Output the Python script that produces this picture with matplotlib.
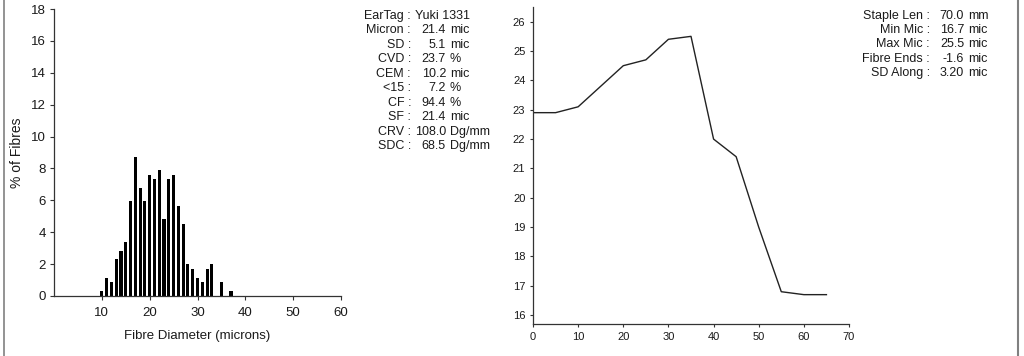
import matplotlib
matplotlib.use("Agg")
import matplotlib.pyplot as plt
from matplotlib.lines import Line2D

plt.rcParams['font.family'] = ['Liberation Sans', 'DejaVu Sans']

# Histogram data
diameters = [10, 11, 12, 13, 14, 15, 16, 17, 18, 19, 20, 21, 22, 23, 24, 25, 26, 27, 28, 29, 30, 31, 32, 33, 35, 37]
pct_fibres = [0.3, 1.15, 0.86, 2.3, 2.85, 3.4, 5.95, 8.7, 6.8, 5.95, 7.6, 7.35, 7.9, 4.8, 7.35, 7.6, 5.65, 4.5, 2.0, 1.72, 1.15, 0.86, 1.72, 2.0, 0.86, 0.3]
hist_xticks = [10, 20, 30, 40, 50, 60]
hist_yticks = [0, 2, 4, 6, 8, 10, 12, 14, 16, 18]

# Profile along staple
position = [0, 5, 10, 15, 20, 25, 30, 35, 40, 45, 50, 55, 60, 65]
micron = [22.9, 22.9, 23.1, 23.8, 24.5, 24.7, 25.4, 25.5, 22.0, 21.4, 19.0, 16.8, 16.7, 16.7]
prof_xticks = [0, 10, 20, 30, 40, 50, 60, 70]
prof_yticks = [16, 17, 18, 19, 20, 21, 22, 23, 24, 25, 26]

# Statistics text
left_labels = ["EarTag", "Micron", "SD", "CVD", "CEM", "<15", "CF", "SF", "CRV", "SDC"]
left_values = ["Yuki 1331", "21.4", "5.1", "23.7", "10.2", "7.2", "94.4", "21.4", "108.0", "68.5"]
left_units = ["", "mic", "mic", "%", "mic", "%", "%", "mic", "Dg/mm", "Dg/mm"]
right_labels = ["Staple Len", "Min Mic", "Max Mic", "Fibre Ends", "SD Along"]
right_values = ["70.0", "16.7", "25.5", "-1.6", "3.20"]
right_units = ["mm", "mic", "mic", "mic", "mic"]

W, H = 1024, 356
fig = plt.figure(figsize=(W / 100, H / 100), dpi=100)

ink = "#1a1a1a"
spine_c = "#333333"

# Histogram axes
ax1 = fig.add_axes([54 / W, 1 - 296 / H, (341 - 54) / W, (296 - 9) / H])
ax1.bar(diameters, pct_fibres, width=0.65, color="black")
ax1.set_xlim(0, 60)
ax1.set_ylim(0, 18)
ax1.set_xticks(hist_xticks)
ax1.set_yticks(hist_yticks)
for s in ["top", "right"]:
    ax1.spines[s].set_visible(False)
for s in ["left", "bottom"]:
    ax1.spines[s].set_color(spine_c)
    ax1.spines[s].set_linewidth(0.9)
ax1.tick_params(axis="both", direction="out", length=3, width=0.8, color=spine_c,
                labelsize=9.5, labelcolor=ink)
ax1.tick_params(axis="x", pad=5)
ax1.tick_params(axis="y", pad=3)
ax1.set_xlabel("Fibre Diameter (microns)", fontsize=9.5, color=ink, labelpad=8)
ax1.set_ylabel("% of Fibres", fontsize=10, color=ink, labelpad=5)

# Profile axes
ax2 = fig.add_axes([533 / W, 1 - 324 / H, (849 - 533) / W, (324 - 7) / H])
ax2.plot(position, micron, color="#222222", lw=1.0)
ax2.set_xlim(0, 70)
ax2.set_ylim(15.7, 26.5)
ax2.set_xticks(prof_xticks)
ax2.set_yticks(prof_yticks)
for s in ["top", "right"]:
    ax2.spines[s].set_visible(False)
for s in ["left", "bottom"]:
    ax2.spines[s].set_color(spine_c)
    ax2.spines[s].set_linewidth(0.9)
ax2.tick_params(axis="both", direction="out", length=2.5, width=0.8, color=spine_c,
                labelsize=8, labelcolor=ink, pad=3)

# Stats text blocks
def block(labels, values, units, x_colon, x_num, y0, dy):
    for i, (l, v, u) in enumerate(zip(labels, values, units)):
        y = 1 - (y0 + i * dy) / H
        fig.text(x_colon / W, y, l + " :", ha="right", va="center", fontsize=9, color=ink)
        if u == "":
            fig.text((x_colon + 4) / W, y, v, ha="left", va="center", fontsize=9, color=ink)
        else:
            fig.text(x_num / W, y, v, ha="right", va="center", fontsize=9, color=ink)
            fig.text((x_num + 4) / W, y, u, ha="left", va="center", fontsize=9, color=ink)

block(left_labels, left_values, left_units, 411, 446, 16, 14.45)
block(right_labels, right_values, right_units, 930, 964, 16, 14.2)

# Frame lines
fig.add_artist(Line2D([3.5 / W, 3.5 / W], [0, 1], color="#808080", lw=1.2))
fig.add_artist(Line2D([1017.5 / W, 1017.5 / W], [0, 1], color="#808080", lw=1.5))

fig.savefig("out.png", dpi=100)
